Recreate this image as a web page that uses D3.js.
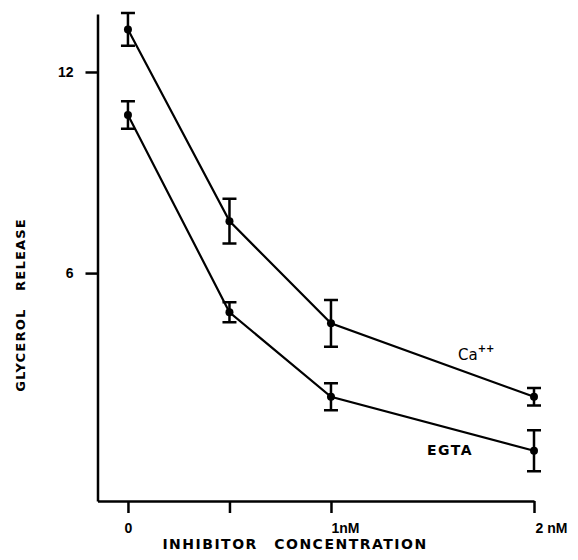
<!DOCTYPE html>
<html>
<head>
<meta charset="utf-8">
<script src="https://cdn.jsdelivr.net/npm/d3@7"></script>
<style>
  body { margin: 0; background: #fff; }
  svg { display: block; font-family: "DejaVu Sans", sans-serif; }
  .axis path, .axis line { stroke: #000; stroke-width: 2.5; }
  .axis text { font-size: 14px; font-weight: bold; fill: #000; }
</style>
</head>
<body>
<div id="chart"></div>
<script>
/* Glycerol release vs inhibitor concentration */

const width = 578, height = 560;

// data
const concentrations = [0, 0.5, 1, 2];          // nM
const caValues  = [13.27, 7.55, 4.5, 2.31];
const caErrors  = [0.49, 0.67, 0.7, 0.26];
const egtaValues = [10.72, 4.83, 2.31, 0.7];
const egtaErrors = [0.41, 0.3, 0.4, 0.61];
const xTickValues = [0, 0.5, 1, 2];
const xTickLabels = ["0", "", "1nM", "2 nM"];
const yTickValues = [6, 12];

const svg = d3.select("#chart")
  .append("svg")
  .attr("width", width)
  .attr("height", height);

let x = d3.scaleLinear()
  .domain([-0.15, 2])
  .range([97.5, 534]);

let y = d3.scaleLinear()
  .domain([-0.8, 13.73])
  .range([501, 14]);

// y axis
svg.append("g")
  .attr("class", "axis")
  .attr("transform", `translate(${x(-0.15)},0)`)
  .call(d3.axisLeft(y)
    .tickValues(yTickValues)
    .tickSize(12)
    .tickSizeOuter(0)
    .tickPadding(12)
    .tickFormat(d3.format("d")));

// x axis
const xAxis = svg.append("g")
  .attr("class", "axis")
  .attr("transform", `translate(0,${y(-0.8)})`)
  .call(d3.axisBottom(x)
    .tickValues(xTickValues)
    .tickSize(12)
    .tickSizeOuter(0)
    .tickPadding(10)
    .tickFormat((d, i) => xTickLabels[i]));

xAxis.selectAll(".tick text")
  .attr("dx", (d, i) => i === 2 ? 14 : i === 3 ? 17 : 0);

// axis titles
svg.append("text")
  .attr("x", 295)
  .attr("y", 549)
  .attr("text-anchor", "middle")
  .attr("font-size", 14)
  .attr("font-weight", "bold")
  .attr("letter-spacing", 1.5)
  .attr("word-spacing", 10)
  .text("INHIBITOR CONCENTRATION");

svg.append("text")
  .attr("transform", "translate(25,305) rotate(-90)")
  .attr("text-anchor", "middle")
  .attr("font-size", 13)
  .attr("font-weight", "bold")
  .attr("letter-spacing", 1.2)
  .attr("word-spacing", 12)
  .text("GLYCEROL RELEASE");

const series = [
  { name: "Ca", values: caValues, errors: caErrors },
  { name: "EGTA", values: egtaValues, errors: egtaErrors }
];

let line = d3.line()
  .x((d, i) => x(concentrations[i]))
  .y(d => y(d));

for (let s of series) {
  svg.append("path")
    .datum(s.values)
    .attr("d", line)
    .attr("fill", "none")
    .attr("stroke", "#000")
    .attr("stroke-width", 2.2);

  const g = svg.append("g");
  const pts = s.values.map((v, i) => ({ c: concentrations[i], v: v, e: s.errors[i] }));

  // error bars
  g.selectAll(".err")
    .data(pts)
    .join("path")
    .attr("d", d => {
      const cx = x(d.c), y1 = y(d.v + d.e), y2 = y(d.v - d.e);
      return `M${cx - 7},${y1}H${cx + 7}M${cx},${y1}V${y2}M${cx - 7},${y2}H${cx + 7}`;
    })
    .attr("fill", "none")
    .attr("stroke", "#000")
    .attr("stroke-width", 2.5);

  g.selectAll("circle")
    .data(pts)
    .join("circle")
    .attr("cx", d => x(d.c))
    .attr("cy", d => y(d.v))
    .attr("r", 4)
    .attr("fill", "#000");
}

// series labels
const caLabel = svg.append("text")
  .attr("x", 458)
  .attr("y", 360)
  .attr("font-size", 15)
  .text("Ca");
caLabel.append("tspan")
  .attr("dy", -8)
  .attr("font-size", 10)
  .attr("font-weight", "bold")
  .text("++");

svg.append("text")
  .attr("x", 427)
  .attr("y", 455)
  .attr("font-size", 14)
  .attr("font-weight", "bold")
  .attr("letter-spacing", 1.5)
  .text("EGTA");
</script>
</body>
</html>
